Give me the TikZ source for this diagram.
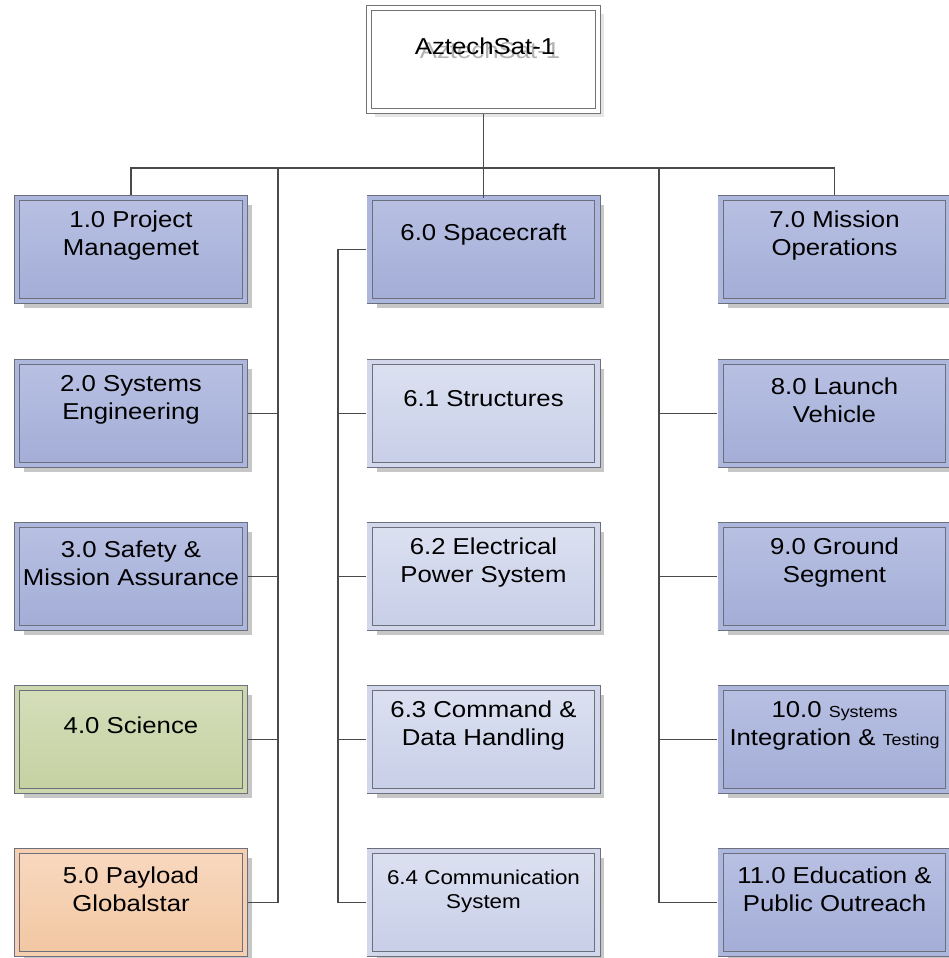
\documentclass[tikz,border=0pt]{standalone}
\usepackage{fontspec}
\setmainfont[FakeStretch=1.12]{Liberation Sans}
\usetikzlibrary{shadows}
\definecolor{bordc}{HTML}{6B707C}
\definecolor{linec}{HTML}{4A4A4A}
\definecolor{darktop}{HTML}{B8C0E3}
\definecolor{darkbot}{HTML}{A3ADD6}
\definecolor{lighttop}{HTML}{DCE1F1}
\definecolor{lightbot}{HTML}{C7CEE7}
\definecolor{greentop}{HTML}{D5DEB9}
\definecolor{greenbot}{HTML}{C5D1A2}
\definecolor{orangetop}{HTML}{F8D8BF}
\definecolor{orangebot}{HTML}{F2C7A2}
\tikzset{
  wbs/.style={draw=bordc,line width=0.9pt,double distance=4.5pt,
    minimum width=227.7pt,minimum height=102.7pt,inner sep=0pt,
    drop shadow={shadow xshift=7pt,shadow yshift=-7pt,fill=black!22,opacity=1}},
  darkbox/.style={wbs,top color=darktop,bottom color=darkbot,double=darktop!50!darkbot},
  lightbox/.style={wbs,top color=lighttop,bottom color=lightbot,double=lighttop!50!lightbot},
  greenbox/.style={wbs,top color=greentop,bottom color=greenbot,double=greentop!50!greenbot},
  orangebox/.style={wbs,top color=orangetop,bottom color=orangebot,double=orangetop!50!orangebot},
  topbox/.style={draw=black!55,fill=white,line width=0.9pt,double=white,double distance=4.5pt,
    minimum width=228.7pt,minimum height=102.7pt,inner sep=0pt,
    drop shadow={shadow xshift=6pt,shadow yshift=-6pt,fill=black!10,opacity=1}},
  lbl/.style={font=\fontsize{23}{28}\selectfont,align=center,inner sep=0pt},
  conn/.style={draw=linec,line width=1.1pt}
}
\begin{document}
\begin{tikzpicture}[x=1pt,y=-1pt]
\useasboundingbox[fill=white] (0,0) rectangle (949,958);
% top box
\node[topbox] (sat) at (483.5,59.5) {};
\node[lbl,text=black!30] (satshadow) at (490,50) {AztechSat-1};
\node[lbl] (satlbl) at (485,46) {AztechSat-1};
% left column
\node[darkbox] (b1) at (131,249.5) {};
\node[darkbox] (b2) at (131,413.5) {};
\node[darkbox] (b3) at (131,576.5) {};
\node[greenbox] (b4) at (131,739.5) {};
\node[orangebox] (b5) at (131,902.5) {};
% middle column
\node[darkbox] (b6) at (483.5,249.5) {};
\node[lightbox] (b61) at (483.5,413.5) {};
\node[lightbox] (b62) at (483.5,576.5) {};
\node[lightbox] (b63) at (483.5,739.5) {};
\node[lightbox] (b64) at (483.5,902.5) {};
% right column
\node[darkbox] (b7) at (834.5,249.5) {};
\node[darkbox] (b8) at (834.5,413.5) {};
\node[darkbox] (b9) at (834.5,576.5) {};
\node[darkbox] (b10) at (834.5,739.5) {};
\node[darkbox] (b11) at (834.5,902.5) {};
% labels
\node[lbl] (t1) at ([yshift=13.5pt]b1.center) {1.0 Project\\Managemet};
\node[lbl] (t2) at ([yshift=13.5pt]b2.center) {2.0 Systems\\Engineering};
\node[lbl] (t3) at ([yshift=13.5pt]b3.center) {3.0 Safety \&\\Mission Assurance};
\node[lbl] (t4) at ([yshift=14.5pt]b4.center) {4.0 Science};
\node[lbl] (t5) at ([yshift=13.5pt]b5.center) {5.0 Payload\\Globalstar};
\node[lbl] (t6) at ([yshift=14.5pt]b6.center) {6.0 Spacecraft};
\node[lbl] (t61) at ([yshift=14.5pt]b61.center) {6.1 Structures};
\node[lbl] (t62) at ([yshift=13.5pt]b62.center) {6.2 Electrical\\Power System};
\node[lbl] (t63) at ([yshift=13.5pt]b63.center) {6.3 Command \&\\Data Handling};
\node[lbl,font=\fontsize{20}{24}\selectfont] (t64) at ([yshift=11pt]b64.center) {6.4 Communication\\System};
\node[lbl] (t7) at ([yshift=13.5pt]b7.center) {7.0 Mission\\Operations};
\node[lbl] (t8) at ([yshift=13.5pt]b8.center) {8.0 Launch\\Vehicle};
\node[lbl] (t9) at ([yshift=13.5pt]b9.center) {9.0 Ground\\Segment};
\node[lbl] (t10) at ([yshift=13.5pt]b10.center) {10.0 {\fontsize{16}{20}\selectfont Systems}\\Integration \& {\fontsize{16}{20}\selectfont Testing}};
\node[lbl] (t11) at ([yshift=13.5pt]b11.center) {11.0 Education \&\\Public Outreach};
% connectors
\coordinate (bus) at (0,168);
\coordinate (lsp) at (278,168);
\coordinate (rsp) at (659,168);
\coordinate (msp) at (338,249.5);
\draw[conn] (sat.south) ++(0,3.15) -- (b6.north);
\draw[conn] (b1.north) ++(0,-3.15) -- (b1.north |- bus) -| ([yshift=3.15pt]b7.north);
\draw[conn] (lsp) |- ([xshift=3.15pt]b5.east);
\draw[conn] ([xshift=3.15pt]b2.east) -- (b2.east -| lsp);
\draw[conn] ([xshift=3.15pt]b3.east) -- (b3.east -| lsp);
\draw[conn] ([xshift=3.15pt]b4.east) -- (b4.east -| lsp);
\draw[conn] (rsp) |- ([xshift=-3.15pt]b11.west);
\draw[conn] ([xshift=-3.15pt]b8.west) -- (b8.west -| rsp);
\draw[conn] ([xshift=-3.15pt]b9.west) -- (b9.west -| rsp);
\draw[conn] ([xshift=-3.15pt]b10.west) -- (b10.west -| rsp);
\draw[conn] ([xshift=-3.15pt]b6.west) -- (msp) |- ([xshift=-3.15pt]b64.west);
\draw[conn] ([xshift=-3.15pt]b61.west) -- (b61.west -| msp);
\draw[conn] ([xshift=-3.15pt]b62.west) -- (b62.west -| msp);
\draw[conn] ([xshift=-3.15pt]b63.west) -- (b63.west -| msp);
\end{tikzpicture}
\end{document}
